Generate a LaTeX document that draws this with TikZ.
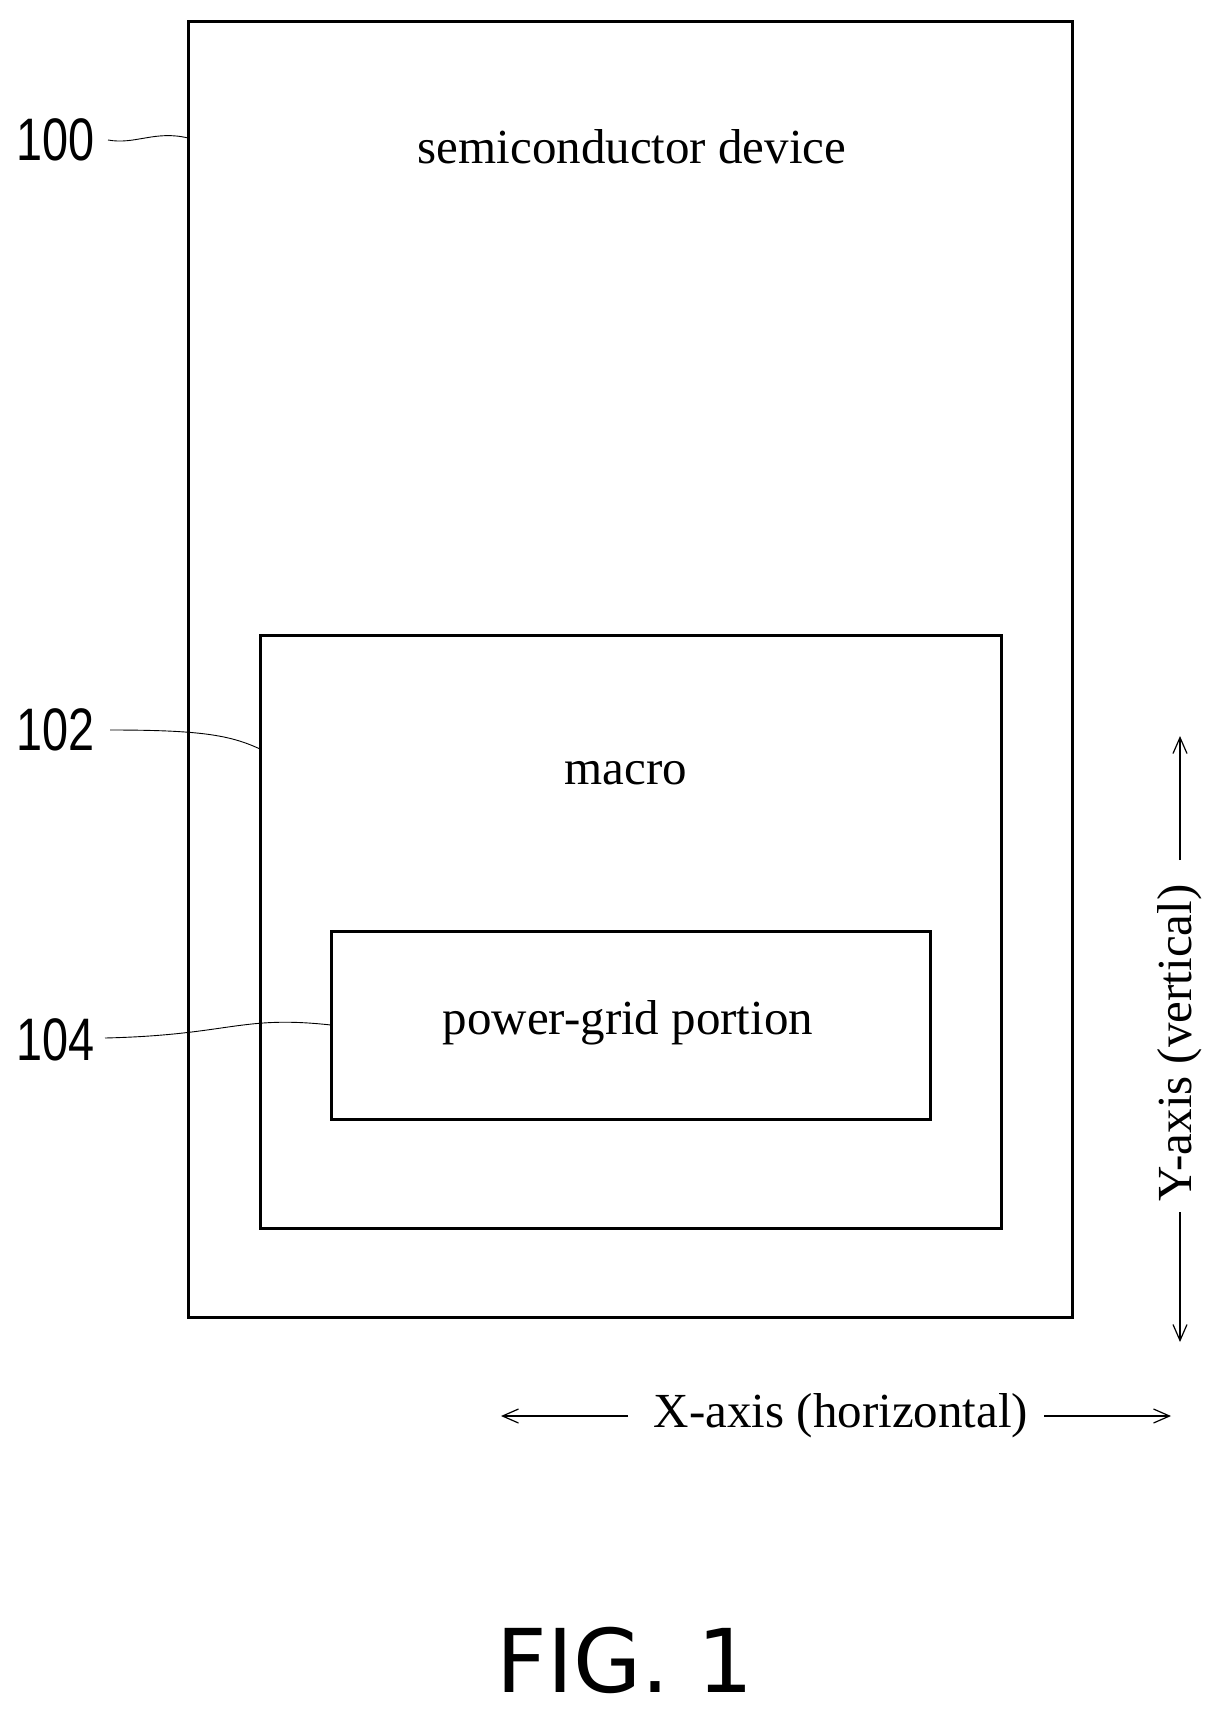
\documentclass[tikz,border=0pt]{standalone}
\usepackage{fontspec}
\setmainfont{Liberation Serif}
\newfontfamily\lblfont{Liberation Sans}
\newfontfamily\figfont{DejaVu Sans}
\usetikzlibrary{arrows.meta}
\begin{document}
\begin{tikzpicture}[x=1pt,y=-1pt,
  box/.style={draw,line width=3pt},
  txt/.style={font=\fontsize{49}{54}\selectfont},
  lbl/.style={font=\lblfont\fontsize{60}{64}\selectfont,xscale=0.78,anchor=center},
  lead/.style={line width=0.9pt},
  ax/.style={line width=1.2pt,-{Straight Barb[length=16pt,width=14pt]}}]
\useasboundingbox (0,0) rectangle (1218,1721);
\draw[box] (188.5,21) rectangle (1072.5,1317);
\draw[box] (260,635) rectangle (1001,1228);
\draw[box] (331,931) rectangle (930,1119);
\node[txt] (t1) at (632,147) {semiconductor device};
\node[txt] (t2) at (626,773) {macro};
\node[txt] (t3) at (628,1023) {power-grid portion};
\node[lbl] (l100) at (56,140) {100};
\node[lbl] (l102) at (56,730) {102};
\node[lbl] (l104) at (56,1040) {104};
\coordinate (e1) at (188,138);
\coordinate (e2) at (260,749);
\coordinate (e3) at (331,1025);
\draw[lead] (108,140) .. controls (135,145) and (155,130) .. (e1);
\draw[lead] (110,730) .. controls (200,730) and (230,735) .. (e2);
\draw[lead] (105,1038) .. controls (230,1035) and (240,1015) .. (e3);
\node[txt,rotate=90] (ya) at (1180,1043) {Y-axis (vertical)};
\coordinate (yt) at (1180,736);
\coordinate (yb) at (1180,1342);
\draw[ax] (1180,860) -- (yt);
\draw[ax] (1180,1212) -- (yb);
\node[txt] (xa) at (841,1416) {X-axis (horizontal)};
\coordinate (xl) at (501,1416);
\coordinate (xr) at (1171,1416);
\draw[ax] (628,1416) -- (xl);
\draw[ax] (1044,1416) -- (xr);
\node[font=\figfont\fontsize{88}{92}\selectfont] (fig) at (625,1660) {FIG. 1};
\end{tikzpicture}
\end{document}
